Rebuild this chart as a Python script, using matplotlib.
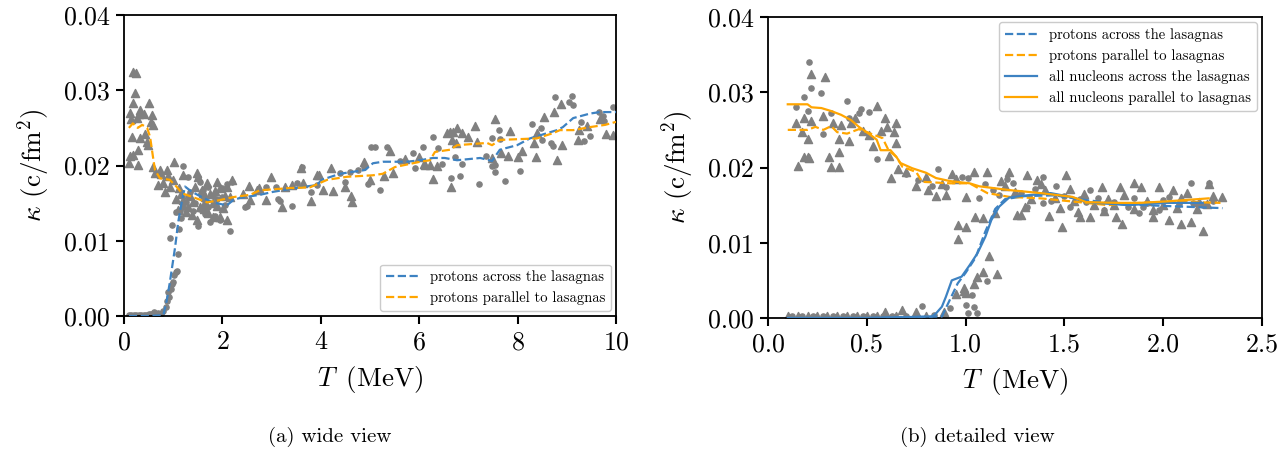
import numpy as np
import matplotlib
matplotlib.use("Agg")
import matplotlib.pyplot as plt

plt.rcParams['font.family'] = 'serif'
plt.rcParams['font.serif'] = ['cmr10', 'DejaVu Serif']
plt.rcParams['mathtext.fontset'] = 'cm'
plt.rcParams['axes.formatter.use_mathtext'] = True

BLUE = '#3d82c2'
ORANGE = '#ffa500'
GRAY = '#808080'

# kappa values below are in units of 1e-3 c/fm^2 ; pairs are (T [MeV], kappa)
# ---------------- (a) wide view ----------------
wide_tri = np.array([
    (0.18,32.4),(0.25,32.3),(0.22,29.6),(0.18,28.3),(0.5,28.3),(0.12,27.0),(0.33,27.4),(0.57,26.7),
    (0.26,26.3),(0.59,25.4),(0.16,23.8),(0.33,23.6),(0.47,23.1),(0.49,22.7),(0.18,21.4),(0.28,22.0),
    (0.1,20.3),(0.28,20.1),(0.12,21.3),(0.4,26.8),(0.3,26.9),(0.15,26.2),(0.42,24.2),(0.55,25.8),
    (0.59,19.8),(0.63,19.0),(0.73,19.4),(0.87,19.4),(1.02,20.5),(0.69,17.4),(0.79,17.7),(0.83,16.5),
    (0.93,17.2),(1.0,18.1),(1.2,18.7),(1.48,19.0),(1.5,18.5),(1.38,13.4),(1.71,13.7),(1.95,13.2),
    (1.2,15.4),(1.69,17.7),(1.89,17.8),(1.95,17.0),(2.09,17.1),(1.61,16.3),(1.81,15.0),(1.54,14.5),
    (2.01,14.4),(1.48,12.8),(1.81,13.2),(1.3,14.5),(1.1,14.1),(2.09,12.8),(1.65,15.1),(2.2,18.1),
    (0.75,18.9),(0.9,18.6),(1.12,17.0),(1.35,16.0),(1.58,16.8),(1.75,16.2),(1.9,14.6),(2.15,15.8),
    (1.25,13.8),(1.44,17.2),(1.05,15.6),(1.15,16.2),(1.4,15.2),(1.62,14.2),(1.85,16.6),(2.05,16.0),
    (2.42,16.2),(2.54,17.3),(2.56,15.4),(2.7,16.7),(2.74,17.0),(2.89,15.4),(2.99,18.5),(3.21,14.5),
    (3.27,17.1),(3.41,17.4),(3.6,19.7),(3.64,17.7),(3.8,15.3),(3.92,18.7),(3.96,18.7),(4.04,16.7),
    (4.21,19.7),(4.25,16.6),(4.49,17.1),(4.61,16.0),(4.63,15.2),(4.88,20.5),(5.0,18.1),(5.41,21.9),
    (5.28,18.6),(5.47,19.0),(5.71,20.8),(6.0,21.1),(6.1,20.2),(6.28,18.2),(6.56,24.3),(6.63,24.5),
    (6.69,24.4),(6.77,25.0),(6.67,23.4),(6.87,24.3),(6.75,23.0),(6.99,23.8),(7.13,25.3),(7.17,23.1),
    (6.65,17.1),(6.12,20.1),(6.22,20.1),(6.36,19.9),(7.54,26.2),(7.48,21.0),(7.66,21.7),(7.8,21.3),
    (7.85,24.6),(8.0,21.1),(8.09,21.9),(8.37,21.1),(8.33,23.0),(8.39,24.3),(8.54,26.4),(8.74,27.1),
    (8.8,20.7),(8.9,22.7),(8.88,28.2),(9.23,23.4),(9.25,24.7),(9.41,25.2),(9.67,26.2),(9.8,24.2),
    (9.94,24.0),
])
wide_circ = np.array([
    (0.1,0.1),(0.15,0.1),(0.2,0.1),(0.25,0.15),(0.3,0.1),(0.35,0.1),(0.4,0.15),(0.45,0.1),
    (0.5,0.2),(0.55,0.3),(0.6,0.5),(0.65,0.3),(0.7,0.4),(0.75,0.2),(0.8,0.6),
    (0.85,1.2),(0.88,2.0),(0.9,3.2),(0.92,2.5),(0.95,3.6),(0.97,4.2),(1.0,4.5),(1.02,5.5),
    (1.05,5.8),(1.07,6.0),(0.93,10.4),(1.1,8.2),(1.12,11.5),(0.97,12.1),(1.15,13.0),(1.13,14.0),
    (1.2,19.9),(1.3,18.5),(1.5,18.5),(1.55,17.8),(1.35,16.5),(1.45,15.0),(1.6,16.8),(1.7,14.5),
    (1.8,16.0),(1.9,15.5),(2.0,17.0),(2.1,17.6),(2.2,17.8),(1.25,15.2),(1.4,14.0),(1.65,13.5),
    (1.75,12.5),(1.85,13.3),(2.15,11.3),(1.95,12.7),(1.5,12.0),(1.2,14.5),(1.05,13.8),(2.05,14.8),
    (1.7,17.2),(1.6,15.5),(1.3,16.0),(1.55,14.2),(1.85,14.8),(2.0,15.8),
    (2.46,14.5),(2.5,14.6),(2.89,17.1),(3.09,17.1),(3.13,15.5),(3.17,15.3),(3.41,14.6),(3.52,17.7),
    (3.62,19.8),(3.8,16.5),(3.92,17.4),(4.39,19.0),(4.59,19.1),(4.76,19.4),(4.88,19.8),(4.96,17.5),
    (5.02,22.4),(5.1,22.5),(5.35,22.4),(5.2,16.7),(5.87,21.6),(6.08,22.4),(5.91,19.7),(5.61,20.6),
    (4.49,17.8),(6.28,23.8),(6.38,22.3),(6.46,20.2),(6.65,18.3),(6.73,21.1),(6.83,18.6),(6.87,20.2),
    (7.22,17.5),(7.36,21.3),(7.48,23.6),(7.48,20.0),(7.54,19.1),(7.54,20.1),(7.62,24.7),(7.64,23.5),
    (7.74,17.9),(8.05,19.3),(8.29,25.5),(8.48,25.0),(8.5,23.4),(8.68,23.0),(8.72,22.6),(8.76,29.1),
    (9.1,29.2),(9.04,28.4),(9.12,28.0),(9.35,23.2),(9.29,25.8),(9.47,23.9),(9.65,27.1),(9.74,26.6),
    (9.76,25.9),(9.94,27.8),
])
wide_across = np.array([
    (0.1,0.0),(0.5,0.0),(0.8,0.1),(0.87,2.1),(0.93,4.4),(1.04,9.2),(1.1,12.4),(1.18,15.4),
    (1.24,17.2),(1.38,16.5),(1.61,15.7),(1.81,15.1),(2.09,14.7),(2.22,15.4),(2.36,15.7),(2.76,16.1),
    (3.03,16.5),(3.58,17.1),(3.92,17.4),(4.02,18.1),(4.39,18.9),(4.59,19.1),(4.9,19.4),(5.06,20.3),
    (5.26,20.5),(5.75,20.5),(6.02,20.7),(6.28,21.0),(6.52,21.0),(6.77,20.7),(7.24,21.0),(7.48,20.6),
    (7.64,22.1),(7.99,22.7),(8.25,23.6),(8.6,24.3),(8.8,24.7),(8.92,25.1),(9.13,26.3),(9.47,26.9),
    (9.67,27.1),(10.0,27.1),
])
wide_parallel = np.array([
    (0.1,25.0),(0.18,25.6),(0.28,25.0),(0.37,25.4),(0.47,25.0),(0.53,23.8),(0.59,21.1),(0.63,19.4),
    (0.73,18.3),(0.93,18.1),(1.08,17.1),(1.18,16.3),(1.4,15.8),(1.69,15.1),(1.95,15.4),(2.22,15.8),
    (2.56,16.1),(2.76,16.7),(3.37,17.0),(3.78,17.1),(4.13,18.1),(4.53,18.5),(5.06,18.7),(5.26,18.9),
    (5.51,19.8),(6.02,20.5),(6.22,20.7),(6.32,21.8),(6.63,22.1),(6.77,22.7),(7.38,23.0),(7.48,22.7),
    (7.64,23.4),(8.39,23.6),(8.72,24.3),(8.86,24.7),(9.13,24.7),(9.47,25.1),(9.78,25.4),(10.0,25.8),
])

# ---------------- (b) detailed view ----------------
det_tri = np.array([
    (0.1,0.2),(0.15,0.3),(0.2,0.2),(0.25,0.3),(0.3,0.2),(0.35,0.3),(0.4,0.2),(0.45,0.3),(0.5,0.2),
    (0.55,0.3),(0.59,0.8),(0.65,0.3),(0.68,1.1),(0.75,0.8),(0.8,0.3),(0.89,0.8),
    (0.22,32.4),(0.29,32.0),(0.14,25.9),(0.17,24.7),(0.18,26.6),(0.22,26.2),(0.2,23.8),(0.15,20.2),
    (0.18,21.4),(0.2,21.4),(0.21,21.3),(0.28,26.8),(0.33,25.9),(0.31,21.4),(0.32,20.1),(0.36,22.1),
    (0.36,20.1),(0.36,23.8),(0.37,25.6),(0.41,23.5),(0.42,25.9),(0.44,26.6),(0.48,24.8),(0.51,24.3),
    (0.53,22.9),(0.55,28.2),(0.57,24.8),(0.59,26.6),(0.6,25.4),(0.64,24.7),(0.65,25.9),(0.61,21.5),
    (0.65,23.2),(0.62,18.6),(0.66,19.8),(0.7,19.4),(0.75,17.5),(0.81,17.0),(0.85,16.2),(0.9,16.3),
    (0.93,19.1),(0.96,12.4),(0.96,10.5),(1.0,16.1),(0.99,3.6),(0.95,3.2),
    (1.0,12.1),(1.12,8.2),(1.16,5.8),(1.09,6.1),(1.04,4.5),(0.99,4.0),(1.0,3.3),(1.06,5.5),
    (1.05,13.4),(1.09,13.3),(1.15,14.0),(1.26,13.7),(1.28,13.7),(1.42,13.6),(1.49,12.1),(1.58,13.4),
    (1.63,13.4),(1.76,13.4),(1.79,12.5),(1.95,13.4),(2.03,13.0),(2.09,12.5),(2.14,12.8),(2.2,11.6),
    (1.04,19.4),(1.11,19.4),(1.31,19.0),(1.51,19.0),(1.85,18.0),(1.98,17.4),(2.23,17.8),(2.25,16.2),
    (2.3,16.1),(1.36,18.3),(1.69,17.4),(1.78,17.4),(1.89,17.4),(2.05,17.0),(2.17,14.5),(2.09,16.0),
    (1.2,17.5),(1.25,16.8),(1.33,15.8),(1.4,17.0),(1.45,16.0),(1.55,15.5),(1.6,16.5),(1.65,15.0),
    (1.72,15.8),(1.8,16.3),(1.85,14.5),(1.92,15.6),(2.0,15.0),(2.07,14.6),(2.12,16.6),(2.18,15.4),
    (1.3,14.8),(1.48,14.6),(1.7,14.2),(1.95,14.4),(0.8,18.8),(0.88,17.8),(0.95,18.5),(1.18,18.2),
    (1.22,19.4),(1.38,17.8),(1.53,17.1),(1.57,14.1),(1.75,15.0),(2.22,15.2),
])
det_circ = np.array([
    (0.12,0.2),(0.17,0.2),(0.23,0.3),(0.28,0.2),(0.33,0.2),(0.38,0.3),(0.43,0.2),(0.48,0.2),
    (0.53,0.3),(0.58,0.2),(0.63,0.2),(0.7,0.3),(0.78,1.6),(0.84,0.4),(0.92,1.3),(1.06,0.7),
    (1.04,1.5),(1.01,0.7),(1.0,1.7),(1.03,3.0),(1.11,4.9),
    (0.21,34.0),(0.22,30.6),(0.18,29.4),(0.27,29.9),(0.14,28.0),(0.2,27.5),(0.28,24.5),(0.4,28.8),
    (0.47,27.8),(0.46,27.2),(0.51,27.4),(0.55,21.1),(0.41,26.6),(0.32,27.2),(0.86,19.8),(0.98,18.7),
    (1.01,18.6),(0.83,17.5),
    (1.21,18.5),(1.39,18.7),(1.46,17.5),(1.63,17.0),(2.14,17.9),(2.23,17.9),(1.07,16.0),(1.14,17.0),
    (1.24,17.9),(1.31,14.8),(1.53,14.8),(1.7,14.4),(1.82,14.8),(1.92,15.3),(1.98,14.4),(1.88,14.0),
    (2.03,16.1),(2.15,15.3),(1.39,15.3),(1.61,15.4),
    (0.7,19.2),(0.76,18.4),(0.9,17.4),(1.1,17.8),(1.17,16.3),(1.28,16.6),(1.35,17.2),(1.43,15.6),
    (1.5,16.2),(1.58,15.8),(1.67,16.0),(1.75,15.4),(1.85,15.9),(1.9,14.8),(2.0,15.7),(2.08,15.1),
    (2.2,15.0),(2.25,15.6),
])
det_p_across = np.array([
    (0.1,0.0),(0.5,0.0),(0.88,0.2),(0.96,4.6),(1.0,6.0),(1.05,8.0),(1.1,11.5),(1.15,14.5),
    (1.2,15.8),(1.3,16.2),(1.45,16.3),(1.6,15.7),(1.8,15.1),(2.0,14.9),(2.3,14.6),
])
det_p_parallel = np.array([
    (0.1,25.0),(0.2,25.0),(0.24,25.4),(0.28,25.0),(0.32,25.5),(0.35,24.7),(0.4,24.5),(0.46,25.1),
    (0.5,24.7),(0.58,23.9),(0.61,22.3),(0.65,21.4),(0.68,20.1),(0.75,19.4),(0.78,18.1),(0.92,17.9),
    (1.02,17.9),(1.11,16.6),(1.22,16.1),(1.38,15.9),(1.61,15.3),(1.72,15.0),(1.88,15.3),(2.15,15.4),
    (2.29,15.3),
])
det_all_across = np.array([
    (0.1,0.0),(0.5,0.0),(0.83,0.2),(0.85,0.6),(0.88,1.5),(0.9,2.8),(0.93,5.0),(0.98,5.5),
    (1.02,7.0),(1.06,8.6),(1.1,10.8),(1.13,13.0),(1.17,14.8),(1.22,16.0),(1.31,16.3),(1.43,16.6),
    (1.53,16.1),(1.61,15.4),(1.82,15.0),(2.02,15.3),(2.2,15.3),
])
det_all_parallel = np.array([
    (0.1,28.4),(0.2,28.4),(0.22,28.0),(0.27,27.9),(0.32,27.5),(0.37,27.0),(0.42,26.3),(0.46,25.4),
    (0.51,24.5),(0.55,23.7),(0.57,22.3),(0.62,22.3),(0.65,21.4),(0.67,20.6),(0.73,19.9),(0.8,19.3),
    (0.85,18.6),(0.92,18.2),(1.02,17.9),(1.07,17.5),(1.22,17.0),(1.38,16.6),(1.54,16.1),(1.61,15.4),
    (1.77,15.3),(1.88,15.3),(2.02,15.5),(2.23,15.9),
])

fig = plt.figure(figsize=(12.88, 4.5), dpi=100)
ax1 = fig.add_axes([124/1288, 1-316/450, 492/1288, 301/450])
ax2 = fig.add_axes([768/1288, 1-318/450, 494/1288, 301/450])

def style(ax):
    for s in ax.spines.values():
        s.set_linewidth(1.3)
    ax.tick_params(direction='out', length=5.5, width=1.5, labelsize=18.7, pad=5)
    ax.set_ylim(0, 0.04)
    ax.set_yticks([0, 0.01, 0.02, 0.03, 0.04])
    ax.set_yticklabels(['0.00', '0.01', '0.02', '0.03', '0.04'])
    ax.set_xlabel(r'$T\,$ (MeV)', fontsize=19.5, labelpad=7)
    ax.set_ylabel(r'$\kappa$ (c/fm$^2$)', fontsize=19.5, labelpad=8)

# (a)
ax1.scatter(wide_circ[:, 0], wide_circ[:, 1]*1e-3, marker='o', s=14, color=GRAY, zorder=2)
ax1.scatter(wide_tri[:, 0], wide_tri[:, 1]*1e-3, marker='^', s=34, color=GRAY, zorder=2)
ax1.plot(wide_across[:, 0], wide_across[:, 1]*1e-3, '--', color=BLUE, lw=1.6,
         label='protons across the lasagnas', zorder=3)
ax1.plot(wide_parallel[:, 0], wide_parallel[:, 1]*1e-3, '--', color=ORANGE, lw=1.6,
         label='protons parallel to lasagnas', zorder=3)
ax1.set_xlim(0, 10)
ax1.set_xticks([0, 2, 4, 6, 8, 10])
style(ax1)
ax1.legend(loc='lower right', fontsize=10.5, borderaxespad=0.35, handlelength=2.2,
           edgecolor='0.75')

# (b)
ax2.scatter(det_circ[:, 0], det_circ[:, 1]*1e-3, marker='o', s=14, color=GRAY, zorder=2)
ax2.scatter(det_tri[:, 0], det_tri[:, 1]*1e-3, marker='^', s=34, color=GRAY, zorder=2)
ax2.plot(det_p_across[:, 0], det_p_across[:, 1]*1e-3, '--', color=BLUE, lw=1.6,
         label='protons across the lasagnas', zorder=3)
ax2.plot(det_p_parallel[:, 0], det_p_parallel[:, 1]*1e-3, '--', color=ORANGE, lw=1.6,
         label='protons parallel to lasagnas', zorder=3)
ax2.plot(det_all_across[:, 0], det_all_across[:, 1]*1e-3, '-', color=BLUE, lw=1.6,
         label='all nucleons across the lasagnas', zorder=3)
ax2.plot(det_all_parallel[:, 0], det_all_parallel[:, 1]*1e-3, '-', color=ORANGE, lw=1.6,
         label='all nucleons parallel to lasagnas', zorder=3)
ax2.set_xlim(0, 2.5)
ax2.set_xticks([0, 0.5, 1.0, 1.5, 2.0, 2.5])
ax2.set_xticklabels(['0.0', '0.5', '1.0', '1.5', '2.0', '2.5'])
style(ax2)
ax2.legend(loc='upper right', fontsize=10.5, borderaxespad=0.35, handlelength=2.2,
           edgecolor='0.75')

fig.text(330/1288, 1-437/450, '(a) wide view', ha='center', va='center', fontsize=15)
fig.text(977/1288, 1-437/450, '(b) detailed view', ha='center', va='center', fontsize=15)

fig.savefig('out.png', dpi=100)
